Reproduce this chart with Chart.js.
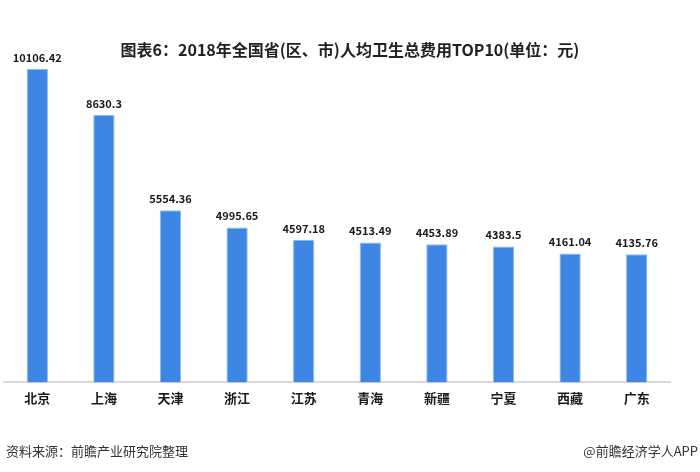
<!DOCTYPE html>
<html>
<head>
<meta charset="utf-8">
<script src="https://cdn.jsdelivr.net/npm/chart.js@4"></script>
<style>
  html, body { margin: 0; padding: 0; background: #fff; }
  #wrap { position: relative; width: 700px; height: 472px; }
  .title { position: absolute; left: 0; width: 700px; top: 37px; line-height: 20px; text-align: center;
           font: bold 16px "Noto Sans CJK SC", sans-serif; color: #222; }
  .note { position: absolute; top: 441px; font: 13px "Noto Sans CJK SC", sans-serif; color: #333; }
</style>
</head>
<body>
<div id="wrap">
  <canvas id="costChart" width="700" height="472"></canvas>
  <div class="title">图表6：2018年全国省(区、市)人均卫生总费用TOP10(单位：元)</div>
  <div class="note" style="left:6px">资料来源：前瞻产业研究院整理</div>
  <div class="note" style="right:2px">@前瞻经济学人APP</div>
</div>
<script>
const regions = ['北京', '上海', '天津', '浙江', '江苏', '青海', '新疆', '宁夏', '西藏', '广东'];
const costs = [10106.42, 8630.3, 5554.36, 4995.65, 4597.18, 4513.49, 4453.89, 4383.5, 4161.04, 4135.76];
const costLabels = ['10106.42', '8630.3', '5554.36', '4995.65', '4597.18', '4513.49', '4453.89', '4383.5', '4161.04', '4135.76'];

// value labels above each bar
const valueLabels = {
    id: 'valueLabels',
    afterDatasetsDraw(chart) {
        const ctx = chart.ctx;
        const meta = chart.getDatasetMeta(0);
        ctx.save();
        ctx.font = 'bold 11px "Noto Sans CJK SC", sans-serif';
        ctx.fillStyle = '#1a1a1a';
        ctx.textAlign = 'center';
        ctx.textBaseline = 'bottom';
        meta.data.forEach((bar, i) => {
            ctx.fillText(costLabels[i], bar.x, bar.y - 6);
        });
        ctx.restore();
    }
};

const ctx = document.getElementById('costChart').getContext('2d');
new Chart(ctx, {
    type: 'bar',
    data: {
        labels: regions,
        datasets: [{
            data: costs,
            backgroundColor: '#3d86e3',
            borderColor: '#8dbaf0',
            borderWidth: 1,
            barPercentage: 0.32,
            categoryPercentage: 1
        }]
    },
    options: {
        responsive: false,
        animation: false,
        layout: { padding: { top: 60, left: 4, right: 30, bottom: 66 } },
        plugins: {
            legend: { display: false },
            tooltip: { enabled: false }
        },
        scales: {
            x: {
                grid: { display: false },
                border: { display: true, color: '#d9d9d9', width: 2 },
                ticks: {
                    color: '#1a1a1a',
                    padding: 0,
                    font: { family: '"Noto Sans CJK SC", sans-serif', size: 13, weight: 'bold' }
                }
            },
            y: {
                display: false,
                min: 0,
                max: 10400
            }
        }
    },
    plugins: [valueLabels]
});
</script>
</body>
</html>
